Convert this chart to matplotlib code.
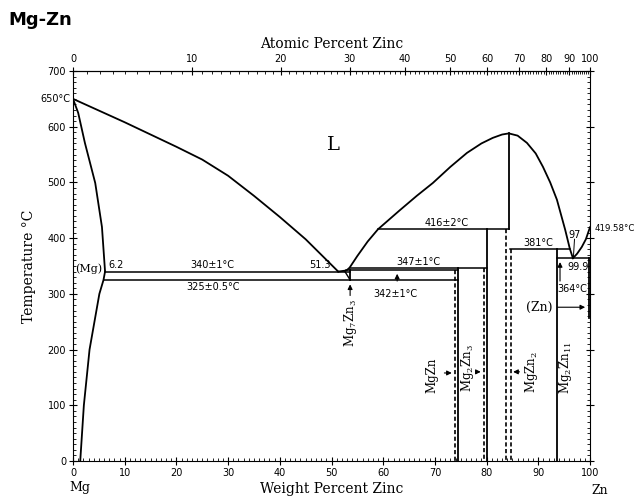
import numpy as np
import matplotlib
matplotlib.use("Agg")
import matplotlib.pyplot as plt
from matplotlib.ticker import MultipleLocator, FixedLocator

plt.rcParams['mathtext.fontset'] = 'dejavuserif'

# liquidus, Mg side (wt% Zn, deg C)
liq_mg_w = [0, 10, 20, 25, 30, 35, 40, 45, 51.3]
liq_mg_t = [650, 608, 564, 541, 512, 476, 438, 398, 340]
# (Mg) solidus and solvus
sol_mg_w = [0, 1.0, 2.3, 4.3, 5.6, 6.2]
sol_mg_t = [650, 625, 571, 499, 420, 340]
solv_mg_w = [6.2, 5.9, 5.1, 3.2, 2.1, 1.4]
solv_mg_t = [340, 325, 300, 200, 100, 0]
# liquidus, middle / Zn side
liq_r_w = [51.3, 52.9, 53.5, 55.0, 57.0, 59.0, 63.2, 66.5, 69.6, 73.0, 76.2, 79.0,
           81.2, 83.0, 84.3, 86.0, 87.8, 89.5, 90.9, 92.3, 93.6, 95.2, 96.1, 96.7]
liq_r_t = [340, 342, 347, 368, 394, 416, 450, 476, 499, 528, 553, 570,
           580, 586, 588, 584, 571, 552, 528, 500, 469, 415, 381, 364]
liq_zn_w = [96.7, 97.5, 98.4, 99.2, 100]
liq_zn_t = [364, 372, 384, 398, 419.58]
# invariant lines: temperature, from, to
iso_t = [340, 325, 342, 347, 416, 381, 364]
iso_a = [6.2, 5.9, 52.9, 53.5, 59.0, 84.6, 93.6]
iso_b = [53.6, 74.4, 74.4, 80.1, 84.3, 96.1, 99.9]
# compound lines: composition, top, bottom
solid_w = [53.6, 74.4, 80.1, 84.3, 93.6, 99.85]
solid_top = [342, 347, 416, 588, 381, 364]
solid_bot = [325, 0, 0, 416, 0, 257]
dash_w = [73.9, 79.5, 83.8, 84.7]
dash_top = [342, 347, 416, 381]
at_major = list(range(0, 101, 10))
at_minor = list(range(0, 101))

fig = plt.figure(figsize=(6.38, 4.97), dpi=100)
ax = fig.add_axes([73/638, 36/497, 517/638, 390/497])
ax.set_xlim(0, 100)
ax.set_ylim(0, 700)

lw = 1.3
ax.plot(liq_mg_w, liq_mg_t, color='black', lw=lw)
ax.plot(sol_mg_w, sol_mg_t, color='black', lw=lw)
ax.plot(solv_mg_w, solv_mg_t, color='black', lw=lw)
ax.plot(liq_r_w, liq_r_t, color='black', lw=lw)
ax.plot(liq_zn_w, liq_zn_t, color='black', lw=lw)
for t, a, b in zip(iso_t, iso_a, iso_b):
    ax.plot([a, b], [t, t], color='black', lw=1.1)
for w, t0, t1 in zip(solid_w, solid_top, solid_bot):
    ax.plot([w, w], [t0, t1], color='black', lw=lw)
for w, t0 in zip(dash_w, dash_top):
    ax.plot([w, w], [t0, 0], color='black', lw=1.2, ls=(0, (2.5, 1.5)))
ax.plot([52.6, 53.6], [340, 325], color='black', lw=1.0)

# axes and ticks
ax.xaxis.set_major_locator(MultipleLocator(10))
ax.xaxis.set_minor_locator(MultipleLocator(1))
ax.yaxis.set_major_locator(MultipleLocator(100))
ax.yaxis.set_minor_locator(MultipleLocator(10))
ax.tick_params(which='major', direction='inout', length=6, width=0.8, labelsize=7,
               right=True, pad=2)
ax.tick_params(which='minor', direction='in', length=2.5, width=0.6, right=True)
for s in ax.spines.values():
    s.set_linewidth(0.8)


def w2a(w):
    w = np.asarray(w, dtype=float)
    m = w / 65.38
    g = (100 - w) / 24.305
    return 100 * m / np.maximum(m + g, 1e-9)


def a2w(a):
    a = np.asarray(a, dtype=float)
    z = a * 65.38
    g = (100 - a) * 24.305
    return 100 * z / np.maximum(z + g, 1e-9)


sec = ax.secondary_xaxis('top', functions=(w2a, a2w))
sec.xaxis.set_major_locator(FixedLocator(at_major))
sec.xaxis.set_minor_locator(FixedLocator(at_minor))
sec.tick_params(which='major', direction='inout', length=6, width=0.8, labelsize=7, pad=2)
sec.tick_params(which='minor', direction='in', length=2.5, width=0.6)
sec.set_xlabel('Atomic Percent Zinc', family='DejaVu Serif', fontsize=10, labelpad=4)

ax.set_xlabel('Weight Percent Zinc', family='DejaVu Serif', fontsize=10, labelpad=3)
ax.set_ylabel('Temperature °C', family='DejaVu Serif', fontsize=10, labelpad=8)

fs = 7
ax.text(-0.6, 650, '650°C', fontsize=fs, ha='right', va='center', clip_on=False)
ax.text(100.9, 418, '419.58°C', fontsize=6.2, ha='left', va='center', clip_on=False)
ax.text(3.0, 345, '(Mg)', fontsize=8, ha='center', va='center', family='DejaVu Serif')
ax.text(6.8, 342, '6.2', fontsize=fs, ha='left', va='bottom')
ax.text(27, 342, '340±1°C', fontsize=fs, ha='center', va='bottom')
ax.text(27, 313, '325±0.5°C', fontsize=fs, ha='center', va='center')
ax.text(47.8, 342, '51.3', fontsize=fs, ha='center', va='bottom')
ax.text(66.9, 349, '347±1°C', fontsize=fs, ha='center', va='bottom')
ax.text(62.3, 300, '342±1°C', fontsize=fs, ha='center', va='center')
ax.text(72.3, 418, '416±2°C', fontsize=fs, ha='center', va='bottom')
ax.text(90.0, 383, '381°C', fontsize=fs, ha='center', va='bottom')
ax.text(97.1, 406, '97', fontsize=fs, ha='center', va='center')
ax.plot([97.0, 96.8], [398, 367], color='black', lw=0.7)
ax.text(97.6, 348, '99.9', fontsize=fs, ha='center', va='center')
ax.text(96.5, 309, '364°C', fontsize=fs, ha='center', va='center')
ax.text(90.2, 276, '(Zn)', fontsize=9, ha='center', va='center', family='DejaVu Serif')
ax.text(50.3, 567, 'L', fontsize=14, ha='center', va='center', family='DejaVu Serif')

arr = dict(arrowstyle='-|>', color='black', lw=0.8, mutation_scale=7)
ax.annotate('', xy=(62.7, 341), xytext=(62.7, 318), arrowprops=arr)
ax.annotate('', xy=(94.2, 362), xytext=(94.2, 318), arrowprops=arr)
ax.annotate('', xy=(99.6, 276), xytext=(93.2, 276), arrowprops=arr)
ax.annotate('', xy=(53.6, 322), xytext=(53.6, 292), arrowprops=arr)
ax.annotate('', xy=(73.8, 158), xytext=(71.3, 158), arrowprops=arr)
ax.annotate('', xy=(79.4, 160), xytext=(77.6, 160), arrowprops=arr)
ax.annotate('', xy=(84.6, 160), xytext=(86.9, 160), arrowprops=arr)

pf = dict(family='DejaVu Serif', fontsize=8.5, rotation=90, ha='center', va='center')
ax.text(53.6, 247, r'Mg$_7$Zn$_3$', **pf)
ax.text(69.4, 154, 'MgZn', **pf)
ax.text(76.3, 167, r'Mg$_2$Zn$_3$', **pf)
ax.text(88.6, 160, r'MgZn$_2$', **pf)
ax.text(95.3, 167, r'Mg$_2$Zn$_{11}$', **pf)

fig.text(80/638, 1 - 488/497, 'Mg', family='DejaVu Serif', fontsize=9, ha='center', va='center')
fig.text(600/638, 1 - 490/497, 'Zn', family='DejaVu Serif', fontsize=9, ha='center', va='center')
fig.text(8/638, 1 - 20/497, 'Mg-Zn', fontsize=13, fontweight='bold', ha='left', va='center')

fig.savefig('out.png', dpi=100)
